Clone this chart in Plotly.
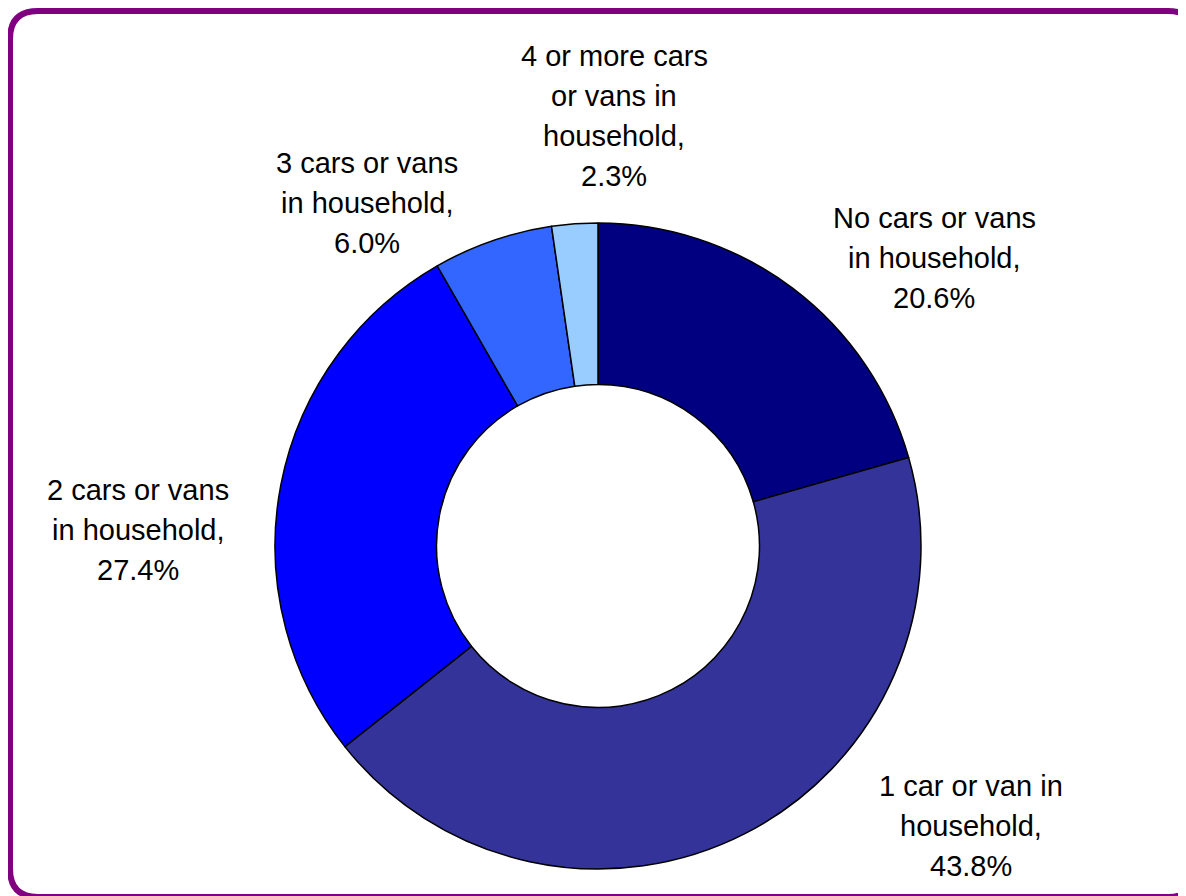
import plotly.graph_objects as go

categories = [
    "No cars or vans in household",
    "1 car or van in household",
    "2 cars or vans in household",
    "3 cars or vans in household",
    "4 or more cars or vans in household",
]
label_lines = [
    ["No cars or vans", "in household,"],
    ["1 car or van in", "household,"],
    ["2 cars or vans", "in household,"],
    ["3 cars or vans", "in household,"],
    ["4 or more cars", "or vans in", "household,"],
]
values = [20.6, 43.8, 27.4, 6.0, 2.3]
colors = ["#000080", "#333399", "#0000FF", "#3366FF", "#99CCFF"]

W, H = 1186, 896
OFF = 8  # browser body margin
cx, cy, R = 598 - OFF, 546 - OFF, 323

fig = go.Figure(go.Pie(
    labels=categories,
    values=values,
    sort=False,
    direction="clockwise",
    rotation=0,
    hole=0.5,
    marker=dict(colors=colors, line=dict(color="#000000", width=1.5)),
    textinfo="none",
    hoverinfo="label+percent",
    showlegend=False,
    domain=dict(x=[(cx - R) / W, (cx + R) / W], y=[1 - (cy + R) / H, 1 - (cy - R) / H]),
))

# label positions (first line y) in pixels
label_pos = [(934, 218), (971, 786), (138, 490), (367, 163), (614, 56)]
LINE = 40
annotations = []
for lines, v, (px, py) in zip(label_lines, values, label_pos):
    all_lines = lines + [f"{v:.1f}%"]
    for i, t in enumerate(all_lines):
        annotations.append(dict(
            x=(px - OFF) / W, y=1 - (py - OFF + i * LINE) / H, xref="paper", yref="paper",
            text=t, showarrow=False,
            font=dict(family="Liberation Sans, Arial", size=29, color="#000000"),
            align="center", xanchor="center", yanchor="middle",
        ))

# rounded purple border
x0, y0, x1, y1, r = 10 - OFF, 11 - OFF, 1196 - OFF, 897 - OFF, 28
def P(x, y):
    return f"{x / W:.5f},{1 - y / H:.5f}"
path = (f"M {P(x0 + r, y0)} L {P(x1 - r, y0)} Q {P(x1, y0)} {P(x1, y0 + r)} "
        f"L {P(x1, y1 - r)} Q {P(x1, y1)} {P(x1 - r, y1)} "
        f"L {P(x0 + r, y1)} Q {P(x0, y1)} {P(x0, y1 - r)} "
        f"L {P(x0, y0 + r)} Q {P(x0, y0)} {P(x0 + r, y0)} Z")

fig.update_layout(
    width=W, height=H,
    margin=dict(l=0, r=0, t=0, b=0),
    paper_bgcolor="white", plot_bgcolor="white",
    annotations=annotations,
    shapes=[dict(type="path", path=path, xref="paper", yref="paper",
                 line=dict(color="#800080", width=6))],
)

fig.write_html("out.html")
